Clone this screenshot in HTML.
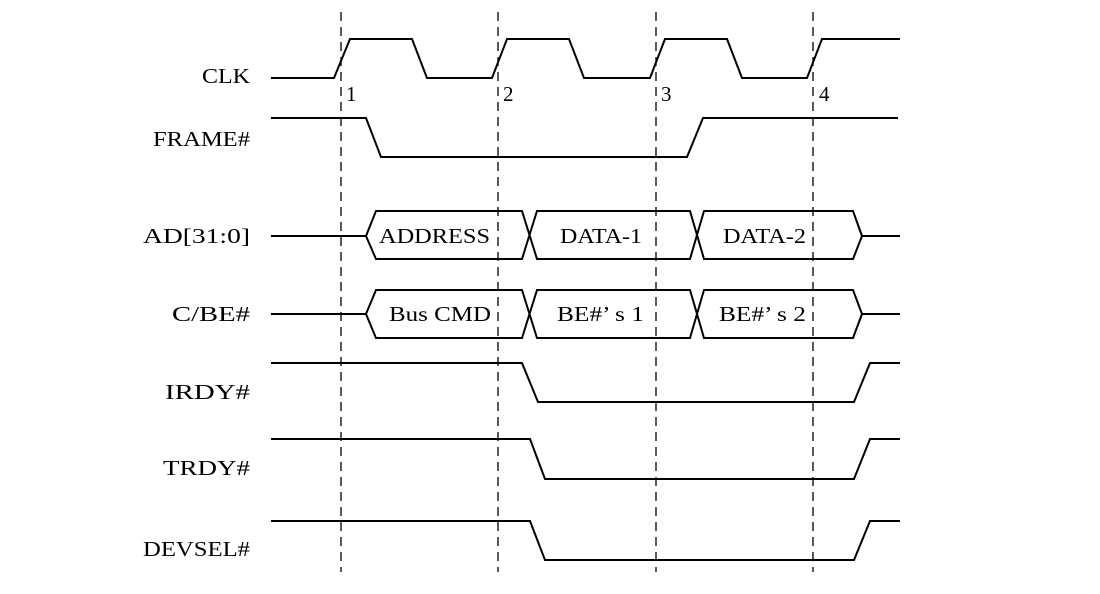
<!DOCTYPE html>
<html><head><meta charset="utf-8"><style>
html,body{margin:0;padding:0;background:#fff;}
svg{display:block;}
text{font-family:"Liberation Serif",serif;font-size:21px;fill:#000;}
</style></head><body>
<svg width="1100" height="594" viewBox="0 0 1100 594" xmlns="http://www.w3.org/2000/svg">
<g stroke="#000" stroke-width="1.3" stroke-dasharray="9,6" fill="none">
<line x1="341" y1="12" x2="341" y2="572"/>
<line x1="498" y1="12" x2="498" y2="572"/>
<line x1="656" y1="12" x2="656" y2="572"/>
<line x1="813" y1="12" x2="813" y2="572"/>
</g>
<g stroke="#000" stroke-width="2" fill="none" stroke-linejoin="miter">
<polyline points="271,78 334,78 350,39 412,39 427,78 492,78 507,39 569,39 584,78 650,78 665,39 727,39 742,78 807,78 822,39 900,39"/>
<polyline points="271,118 366,118 381,157 687,157 703,118 898,118"/>
<polyline points="271,236 366,236"/>
<polyline points="366,236 376,211 522,211 537,259 690,259 704,211 853,211 862,236 900,236"/>
<polyline points="366,236 376,259 522,259 537,211 690,211 704,259 853,259 862,236"/>
<polyline points="271,314 366,314"/>
<polyline points="366,314 376,290 522,290 537,338 690,338 704,290 853,290 862,314 900,314"/>
<polyline points="366,314 376,338 522,338 537,290 690,290 704,338 853,338 862,314"/>
<polyline points="271,363 522,363 538,402 854,402 870,363 900,363"/>
<polyline points="271,439 530,439 545,479 854,479 870,439 900,439"/>
<polyline points="271,521 530,521 545,560 854,560 870,521 900,521"/>
</g>
<text x="202" y="83" textLength="48" lengthAdjust="spacingAndGlyphs">CLK</text>
<text x="153" y="146" textLength="97" lengthAdjust="spacingAndGlyphs">FRAME#</text>
<text x="143" y="243" textLength="107" lengthAdjust="spacingAndGlyphs">AD[31:0]</text>
<text x="172" y="321" textLength="78" lengthAdjust="spacingAndGlyphs">C/BE#</text>
<text x="165" y="399" textLength="85" lengthAdjust="spacingAndGlyphs">IRDY#</text>
<text x="163" y="475" textLength="87" lengthAdjust="spacingAndGlyphs">TRDY#</text>
<text x="143" y="556" textLength="107" lengthAdjust="spacingAndGlyphs">DEVSEL#</text>
<text x="346" y="101">1</text>
<text x="503" y="101">2</text>
<text x="661" y="101">3</text>
<text x="819" y="101">4</text>
<text x="379" y="243" textLength="111" lengthAdjust="spacingAndGlyphs">ADDRESS</text>
<text x="560" y="243" textLength="82" lengthAdjust="spacingAndGlyphs">DATA-1</text>
<text x="723" y="243" textLength="83" lengthAdjust="spacingAndGlyphs">DATA-2</text>
<text x="389" y="321" textLength="102" lengthAdjust="spacingAndGlyphs">Bus CMD</text>
<text x="557" y="321" textLength="87" lengthAdjust="spacingAndGlyphs">BE#’ s 1</text>
<text x="719" y="321" textLength="87" lengthAdjust="spacingAndGlyphs">BE#’ s 2</text>
</svg>
</body></html>
